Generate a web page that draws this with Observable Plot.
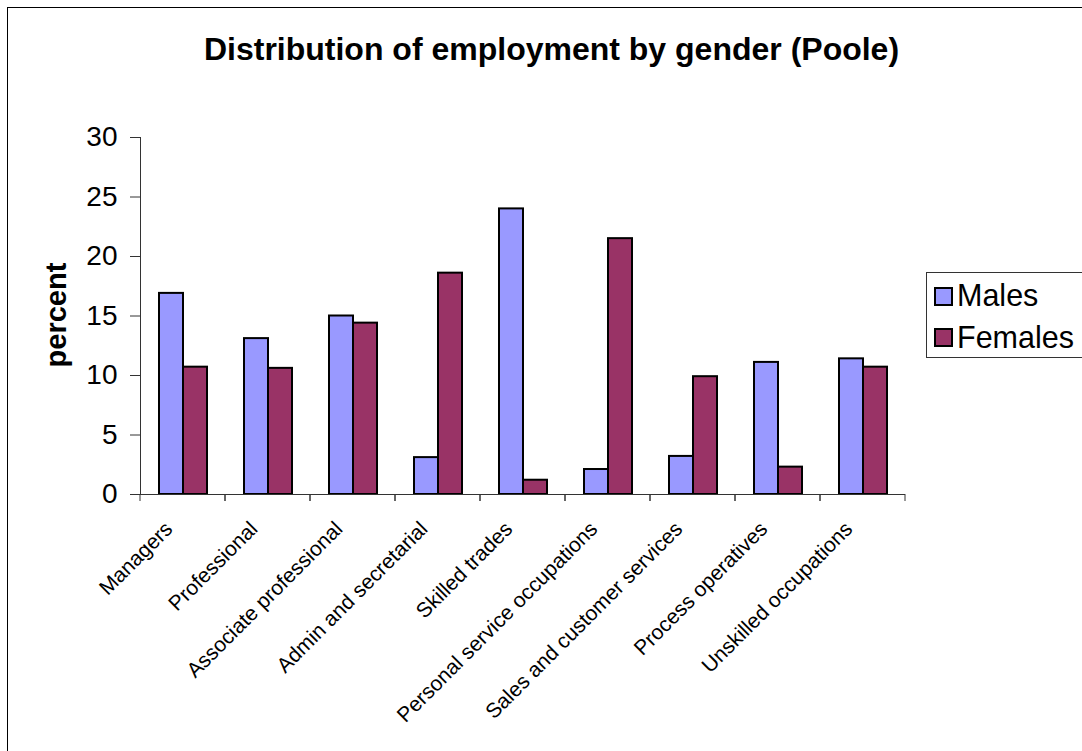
<!DOCTYPE html>
<html>
<head>
<meta charset="utf-8">
<script src="https://cdn.jsdelivr.net/npm/d3@7"></script>
<script src="https://cdn.jsdelivr.net/npm/@observablehq/plot@0.6"></script>
<style>
  html, body { margin: 0; padding: 0; background: #fff; overflow: hidden; }
  #wrap { position: relative; width: 1082px; height: 751px; overflow: hidden;
          font-family: Arial, "Liberation Sans", sans-serif; color: #000; }
  #border { position: absolute; left: 7px; top: 7px; width: 1120px; height: 800px;
            border: 1px solid #000; box-sizing: border-box; }
  #chart { position: absolute; left: 0; top: 0; }
  #title { position: absolute; left: 0; top: 33px; width: 1103px; text-align: center;
           font-weight: bold; font-size: 32px; line-height: 32px; white-space: nowrap; }
  #ylabel { position: absolute; left: 55.5px; top: 315px; font-weight: bold; font-size: 29px;
            line-height: 29px; white-space: nowrap; transform: translate(-50%, -50%) rotate(-90deg); }
  #legend { position: absolute; left: 926px; top: 272px; width: 170px; height: 86px;
            border: 1px solid #333; box-sizing: border-box; background: #fff; }
  .sw { position: absolute; left: 7px; width: 19px; height: 19px; border: 2px solid #000; box-sizing: border-box; }
  .lt { position: absolute; left: 30px; font-size: 30.5px; line-height: 30.5px; white-space: nowrap; }
</style>
</head>
<body>
<div id="wrap">
  <div id="border"></div>
  <div id="chart"></div>
  <div id="title"></div>
  <div id="ylabel"></div>
  <div id="legend"></div>
</div>
<script>
const titleText = "Distribution of employment by gender (Poole)";
const yLabel = "percent";
const categories = [
  "Managers",
  "Professional",
  "Associate professional",
  "Admin and secretarial",
  "Skilled trades",
  "Personal service occupations",
  "Sales and customer services",
  "Process operatives",
  "Unskilled occupations"
];
const seriesNames = ["Males", "Females"];
const males   = [16.9, 13.1, 15.0, 3.1, 24.0, 2.1, 3.2, 11.1, 11.4];
const females = [10.7, 10.6, 14.4, 18.6, 1.2, 21.5, 9.9, 2.3, 10.7];
const seriesColors = ["#9999FF", "#993366"];
const yTicks = [0, 5, 10, 15, 20, 25, 30];

const rows = [];
categories.forEach((c, i) => {
  rows.push({category: c, series: seriesNames[0], value: males[i]});
  rows.push({category: c, series: seriesNames[1], value: females[i]});
});

// tick marks at the category boundaries (left and right edge of each facet)
const boundaryTicks = (index, scales, values, dimensions) => {
  const {marginLeft, marginRight, width} = dimensions;
  const y0 = scales.y(0);
  const g = d3.create("svg:g").attr("stroke", "#333").attr("stroke-width", 1);
  for (const x of [marginLeft, width - marginRight]) {
    g.append("line").attr("x1", x).attr("x2", x).attr("y1", y0).attr("y2", y0 + 7);
  }
  return g.node();
};

const plot = Plot.plot({
  width: 1082,
  height: 751,
  marginTop: 137,
  marginBottom: 257,
  marginLeft: 140,
  marginRight: 177,
  style: {fontFamily: 'Arial, "Liberation Sans", sans-serif', color: "#000", background: "transparent", overflow: "visible"},
  fx: {domain: categories, padding: 0},
  x: {domain: seriesNames, paddingInner: 0, paddingOuter: 0.77, axis: null},
  y: {domain: [0, 30]},
  color: {domain: seriesNames, range: seriesColors},
  marks: [
    Plot.barY(rows, {fx: "category", x: "series", y: "value", fill: "series", stroke: "#000", strokeWidth: 2}),
    Plot.ruleY([0], {stroke: "#333", strokeWidth: 1}),
    boundaryTicks,
    Plot.frame({anchor: "left", facetAnchor: "left", stroke: "#333", strokeWidth: 1}),
    Plot.axisY({ticks: yTicks, tickSize: 10, tickPadding: 13, fontSize: 28, label: null, stroke: "#333"}),
    Plot.axisFx({anchor: "bottom", tickRotate: -45, tickSize: 0, tickPadding: 31, dx: -14, fontSize: 21, label: null})
  ]
});
document.getElementById("chart").appendChild(plot);

document.getElementById("title").textContent = titleText;
document.getElementById("ylabel").textContent = yLabel;

const legend = document.getElementById("legend");
const swTops = [13.7, 54.7];
const txtTops = [6.9, 48.5];
seriesNames.forEach((name, i) => {
  const sw = document.createElement("div");
  sw.className = "sw";
  sw.style.top = swTops[i] + "px";
  sw.style.background = seriesColors[i];
  legend.appendChild(sw);
  const t = document.createElement("div");
  t.className = "lt";
  t.style.top = txtTops[i] + "px";
  t.textContent = name;
  legend.appendChild(t);
});
</script>
</body>
</html>
